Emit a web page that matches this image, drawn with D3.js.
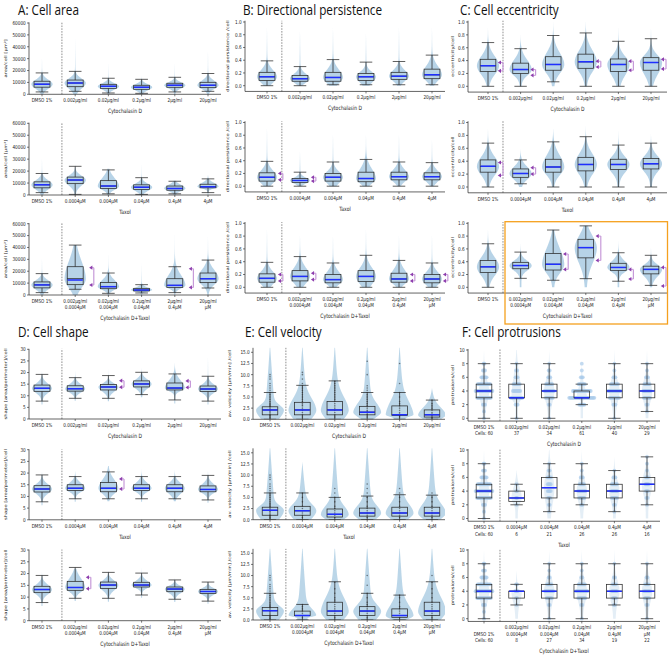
<!DOCTYPE html>
<html><head><meta charset="utf-8">
<script src="https://cdn.jsdelivr.net/npm/d3@7"></script>
<style>body{margin:0;background:#fff}svg{display:block}</style>
</head><body><svg id="c" width="670" height="658"></svg>
<script>
// ---------------- DATA ----------------
const catsCyto  = ["DMSO 1%","0.002µg/ml","0.02µg/ml","0.2µg/ml","2µg/ml","20µg/ml"];
const catsTaxol = ["DMSO 1%","0.0004µM","0.004µM","0.04µM","0.4µM","4µM"];
const catsCombo = ["DMSO 1%","0.002µg/ml\n0.0004µM","0.02µg/ml\n0.004µM","0.2µg/ml\n0.04µM","2µg/ml\n0.4µM","20µg/ml\nµM"];
const rowTitles = ["Cytochalasin D","Taxol","Cytochalasin D+Taxol"];

const areaTicks  = [0,10000,20000,30000,40000,50000,60000];
const persTicks  = [0,0.2,0.4,0.6,0.8,1.0];
const eccTicks   = [0,0.2,0.4,0.6,0.8,1.0];
const shapeTicks = [0,5,10,15,20,25,30];
const velTicks   = [0,2.5,5,7.5,10,12.5,15];
const protTicks  = [0,2,4,6,8,10];

// stats per category: [whisker low, Q1, median, Q3, whisker high, (blue median)]
const areaCyto  = [[2000,6000,8500,11000,18000],[2500,6400,9500,12000,19300],[1100,5000,6700,8400,13500],[800,4200,5900,7600,12600],[2000,5900,7600,9300,14300],[2500,5600,7600,10100,17500]];
const areaCytoTop  = [37000,54000,30000,16000,30000,45000];
const areaTaxol = [[2000,6000,8500,11000,18000],[500,9500,12500,15000,24000],[1000,5500,7500,12000,21000],[500,4500,6500,8500,14500],[1000,4000,5500,7500,11500],[2000,6000,7000,9000,13500]];
const areaTaxolTop = [37000,26000,22000,30000,12000,17000];
const areaCombo = [[2000,6000,8500,11000,18000],[4800,8700,13700,23800,42000,12600],[1400,5300,7000,10600,18500],[1700,3400,4200,5600,8700],[2000,6400,8100,13700,23800],[5900,10400,13700,18500,29400]];
const areaComboTop = [37000,42000,40000,30000,60000,60000];
const areaComboArrows = [[1,23000,8400],[4,22100,6400]];

const persCyto  = [[0,0.08,0.14,0.21,0.39],[0,0.07,0.11,0.16,0.30],[0.015,0.07,0.13,0.21,0.41],[0.015,0.08,0.14,0.19,0.37],[0.015,0.10,0.15,0.21,0.38],[0.015,0.11,0.17,0.26,0.48]];
const persCytoTop  = [1.0,0.95,1.0,0.9,1.0,1.0];
const persTaxol = [[0,0.08,0.14,0.21,0.39],[0,0.06,0.09,0.12,0.22],[0,0.08,0.14,0.20,0.38],[0,0.07,0.12,0.22,0.42],[0,0.10,0.15,0.22,0.38],[0,0.10,0.15,0.21,0.37]];
const persTaxolTop = [1.0,0.6,0.9,0.9,0.9,0.8];
const persTaxolArrows = [[0,0.2,0.1],[1,0.14,0.08]];
const persCombo = [[0,0.08,0.14,0.21,0.39],[0,0.10,0.17,0.26,0.48],[0,0.07,0.12,0.20,0.38],[0,0.09,0.17,0.26,0.50],[0,0.08,0.13,0.22,0.42],[0,0.07,0.13,0.20,0.38]];
const persComboTop = [1.0,0.9,0.9,1.0,0.9,0.9];
const persComboArrows = [[0,0.2,0.1],[1,0.22,0.12],[4,0.2,0.1],[5,0.2,0.1]];

const eccCyto  = [[0,0.23,0.32,0.42,0.68],[0,0.20,0.26,0.36,0.585],[0.07,0.25,0.34,0.46,0.79],[0,0.28,0.38,0.50,0.83],[0,0.23,0.34,0.425,0.70],[0,0.25,0.37,0.445,0.74]];
const eccCytoTop  = [0.95,0.8,1.0,1.0,0.95,0.95];
const eccCytoArrows = [[0,0.37,0.24],[1,0.26,0.17],[3,0.39,0.30],[4,0.39,0.25],[5,0.42,0.27]];
const eccTaxol = [[0,0.23,0.32,0.42,0.68],[0.05,0.15,0.21,0.28,0.42],[0,0.23,0.31,0.43,0.70],[0,0.25,0.35,0.46,0.78],[0,0.27,0.35,0.43,0.65],[0,0.28,0.36,0.44,0.68]];
const eccTaxolTop = [0.95,0.6,0.9,0.95,0.9,0.85];
const eccTaxolArrows = [[0,0.38,0.18],[1,0.3,0.2]];
const eccCombo = [[0,0.23,0.32,0.42,0.68],[0.14,0.29,0.34,0.39,0.55],[0.11,0.27,0.36,0.53,0.895],[0.135,0.46,0.62,0.75,0.96],[0.095,0.265,0.31,0.375,0.54],[0.03,0.21,0.28,0.33,0.50]];
const eccComboTop = [0.95,0.7,0.9,0.96,0.75,0.65];
const eccComboArrows = [[2,0.52,0.28],[3,0.80,0.42],[4,0.28,0.13],[5,0.31,0.02]];

const shapeCyto  = [[7.7,11.9,13.2,14.6,19.2],[8.9,12.0,13.0,14.3,17.8],[8.9,12.5,13.8,14.8,18.7],[10.5,13.8,15.1,16.4,20.1],[8.2,12.5,13.3,15.5,19.4],[7.7,11.8,12.9,14.2,18.4]];
const shapeCytoTop  = [22,22,23,22,24,30];
const shapeCytoArrows = [[2,16.5,13.7],[4,16.4,13.6]];
const shapeTaxol = [[7.7,11.9,13.2,14.6,19.2],[9.0,12.5,13.5,15.0,18.5],[9.0,12.0,13.5,16.0,20.5],[9.0,12.5,13.5,15.0,18.5],[9.0,12.0,13.5,15.0,18.5],[8.5,12.0,13.0,14.5,19.0]];
const shapeTaxolTop = [22,21,23,22,22,22];
const shapeTaxolArrows = [[2,17.5,13.2]];
const shapeCombo = [[7.7,11.9,13.2,14.6,19.2],[9.5,12.9,14.1,16.7,22.6],[9.5,13.7,15.1,16.4,20.5],[10.9,14.3,15.1,16.3,20.2],[9.1,12.3,13.4,14.3,17.3],[8.3,11.5,12.4,13.3,16.4]];
const shapeComboTop = [22,22,21,24,18,17];
const shapeComboArrows = [[1,18.4,13.6]];

const velCyto  = [[0,1.0,2.1,2.8,6.0],[0,1.0,2.1,3.8,7.6],[0,1.0,2.1,4.0,8.6],[0,1.0,1.6,2.9,6.0],[0,0.9,1.0,3.0,6.0],[0,0.5,1.0,2.1,4.3]];
const velCytoTop  = [17,17,17,17,17,7];
const velCytoPts = [[0.3,0.5,0.8,1,1.2,1.5,1.8,2,2.2,2.5,2.8,3,3.3,3.6,4,4.5,5,5.5,6,6.5,7,7.5,8,9,9.5,10],[0.5,1,1.5,2,2.5,3,3.2,3.5,4,4.5,5,5.5,6,6.5,7,7.5,8,9,10,10.5],[0.5,1,1.5,2,2.5,3,3.5,4,4.5,5,5.5,6,6.5,7,7.5,8,8.5],[0.5,1,1.2,1.5,1.8,2,2.5,3,3.5,4,4.5,5,5.5,6,6.5,7,7.5,10,13],[0.5,0.8,1,1.2,1.5,2,2.5,3,3.5,4,5,6,8,12.5],[0.3,0.5,0.8,1,1.2,1.5,2,2.5,3,3.5,4.3]];
const velTaxol = [[0,1.0,2.1,2.8,6.0],[0,1.0,2.0,3.0,6.0],[0,0.6,1.2,2.4,5.0],[0,0.8,1.5,2.6,5.3],[0,0.8,1.5,2.8,5.6],[0,0.8,1.5,2.8,5.5]];
const velTaxolTop = [17,13,17,17,17,17];
const velTaxolPts = [[0.3,0.5,0.8,1,1.2,1.5,1.8,2,2.2,2.5,2.8,3,3.3,3.6,4,4.5,5,5.5,6,6.5,7,7.5,8,9,9.5,10],[0.5,1,1.5,2,2.5,3,4,5,6],[0.5,1,1.5,2,2.5,3,4,5,6,7],[0.5,1,1.5,2,2.5,3,4,5,6,7,8],[0.5,1,1.5,2,2.5,3,4,5,6,7],[0.5,1,1.5,2,2.5,3,4,5,6]];
const velCombo = [[0,1.0,2.1,2.8,6.0],[0,1.0,1.0,2.0,3.5],[0,1.0,2.0,4.0,8.6],[0,1.0,2.0,3.0,6.0],[0,0.6,1.0,2.5,5.6],[0,1.0,2.0,4.0,8.6]];
const velComboTop = [17,17,17,17,17,17];
const velComboPts = [[0.3,0.5,0.8,1,1.2,1.5,1.8,2,2.2,2.5,2.8,3,3.3,3.6,4,4.5,5,5.5,6,6.5,7,7.5,8,9,9.5,10],[0.5,1,1.5,2,2.5,3,3.5],[0.5,1,1.5,2,2.5,3,3.5,4,4.5,5,6,7,8.5],[0.5,1,1.5,2,2.5,3,3.5,4,5,6,7.8,10],[0.5,1,1.5,2,2.5,3,4,5,5.6],[0.5,1,1.5,2,2.5,3,3.5,4,5,6,7,8.5,10]];

const protCyto  = [[0,3,4,5,8],[0,3,3,5,8],[0,3,4,5,8],[2,3,3,4,5],[0,3,4,5,8],[1,3,4,5,8]];
const protCytoCounts = [[1,1,3,14,17,13,6,3,2,0,0],[1,0,3,12,8,7,3,2,1,0,0],[1,0,2,8,10,7,3,2,1,0,0],[0,0,6,25,18,7,3,1,1,0,0],[1,0,3,10,13,8,3,1,1,0,0],[0,1,2,7,8,6,3,1,1,0,0]];
const protCytoCells = [60,37,34,61,40,29];
const protTaxol = [[0,3,4,5,8],[2,2.5,3,4,5],[1,3,4.5,6,8],[2,3,4,5,8],[1,3,4,5,7],[2,4,5,6,9]];
const protTaxolCounts = [[1,1,3,14,17,13,6,3,2,0,0],[0,0,1,2,2,1,0,0,0,0,0],[0,1,2,3,4,4,4,2,1,0,0],[0,0,2,6,8,5,3,1,1,0,0],[0,1,2,6,7,6,3,1,0,0,0],[0,0,1,2,3,4,3,1,1,1,0]];
const protTaxolCells = [60,6,21,26,26,16];
const protCombo = [[0,3,4,5,8],[2,3,4,4,5],[0,3,4,5,8],[0,3,4,5,8],[2,3,4,5,8],[0,3,4,5,8]];
const protComboCounts = [[1,1,3,14,17,13,6,3,2,0,0],[0,0,1,2,3,2,0,0,0,0,0],[1,0,2,6,9,5,2,1,1,0,0],[1,0,2,8,12,7,2,1,1,0,0],[0,0,2,4,6,4,2,0,1,0,0],[1,0,2,5,7,4,2,0,1,0,0]];
const protComboCells = [60,8,27,34,19,22];

// ---------------- LAYOUT ----------------
const svg = d3.select("#c");
const SX = 0.76;
const FT = "'DejaVu Sans', sans-serif";
function txt(g,x,y,s,o={}) {
  const t = g.append("text")
    .attr("transform",`translate(${x},${y}) scale(${o.sx||SX},1)`+(o.rot?` rotate(${o.rot})`:""))
    .attr("font-size",o.size||5.5).attr("font-family",o.family||FT)
    .attr("text-anchor",o.anchor||"middle").attr("fill",o.fill||"#222").text(s);
  return t;
}
const f1 = d3.format(".1f"), fd = d3.format("d");
const panels = [
 {key:"A",title:"A: Cell area",tx:18,ty:15.3,ylabel:"area/cell [µm²]",ylx:5,
  ax:29,c0:42,c5:208,rx:221,dash:0.6,ticks:areaTicks,fmt:fd,dmin:0,dmax:60500,v0:0,v1:60000,
  py0:[94.3,195,295],py1:[23,123.3,223.7],vw:0.32,tail:0.04,tex:2,floor:"zero",vop:0.32,aTip:0.42,aLine:0.56,
  rows:[{s:areaCyto,top:areaCytoTop,arr:[]},{s:areaTaxol,top:areaTaxolTop,arr:[]},{s:areaCombo,top:areaComboTop,arr:areaComboArrows}]},
 {key:"B",title:"B: Directional persistence",tx:243,ty:15.3,ylabel:"directional persistence /cell",ylx:227,
  ax:245,c0:267,c5:432,rx:445,dash:0.45,ticks:persTicks,fmt:f1,dmin:-0.09,dmax:1.02,v0:0,v1:1,
  py0:[85.7,186.2,287.3],py1:[22,122.5,223.3],vw:0.3,tail:0.07,tex:1.6,floor:"zero",vop:0.32,aTip:0.33,aLine:0.48,
  rows:[{s:persCyto,top:persCytoTop,arr:[]},{s:persTaxol,top:persTaxolTop,arr:persTaxolArrows},{s:persCombo,top:persComboTop,arr:persComboArrows}]},
 {key:"C",title:"C: Cell eccentricity",tx:460,ty:15.3,ylabel:"eccentricity/cell",ylx:452,
  ax:468,c0:488,c5:651,rx:667,dash:0.46,ticks:eccTicks,fmt:f1,dmin:-0.09,dmax:1.02,v0:0,v1:1,
  py0:[86.3,187,287.3],py1:[22,122.5,223.3],vw:0.34,tail:0.08,tex:1.5,floor:"zero",vop:0.32,aTip:0.3,aLine:0.46,
  rows:[{s:eccCyto,top:eccCytoTop,arr:eccCytoArrows},{s:eccTaxol,top:eccTaxolTop,arr:eccTaxolArrows},{s:eccCombo,top:eccComboTop,arr:eccComboArrows}]},
 {key:"D",title:"D: Cell shape",tx:18,ty:337,ylabel:"shape [area/perimeter]/cell",ylx:5,
  ax:29,c0:42,c5:208,rx:221,dash:0.6,ticks:shapeTicks,fmt:fd,dmin:0,dmax:30.2,v0:0,v1:30,
  py0:[419,519.8,620.7],py1:[349.3,449.7,550],vw:0.3,tail:0.05,tex:2,floor:"ext",vop:0.32,aTip:0.32,aLine:0.47,
  rows:[{s:shapeCyto,top:shapeCytoTop,arr:shapeCytoArrows},{s:shapeTaxol,top:shapeTaxolTop,arr:shapeTaxolArrows},{s:shapeCombo,top:shapeComboTop,arr:shapeComboArrows}]},
 {key:"E",title:"E: Cell velocity",tx:245,ty:337,ylabel:"av. velocity [µm/min] /cell",ylx:229,
  ax:253,c0:270,c5:432,rx:445,dash:0.49,ticks:velTicks,fmt:f1,dmin:0,dmax:16,v0:0,v1:15,
  py0:[419.3,519.7,620],py1:[352.3,452.8,553.3],vw:0.43,tail:0.55,tex:1.1,floor:"zero",vop:0.3,aTip:0.33,aLine:0.48,
  rows:[{s:velCyto,top:velCytoTop,arr:[],pts:velCytoPts},{s:velTaxol,top:velTaxolTop,arr:[],pts:velTaxolPts},{s:velCombo,top:velComboTop,arr:[],pts:velComboPts}]},
 {key:"F",title:"F: Cell protrusions",tx:462,ty:337,ylabel:"protrusions/cell",ylx:452,
  ax:468,c0:484,c5:647,rx:660,dash:0.49,ticks:protTicks,fmt:fd,dmin:-0.4,dmax:10.15,v0:0,v1:10,
  py0:[418.3,518.5,618.7],py1:[350,450,550],vw:0.16,tail:0.3,tex:1,floor:"zero",vop:0.12,aTip:0.33,aLine:0.48,
  rows:[{s:protCyto,top:[10,10,10,8,10,10],arr:[],counts:protCytoCounts,cells:protCytoCells},
        {s:protTaxol,top:[10,7,10,10,9,10],arr:[],counts:protTaxolCounts,cells:protTaxolCells},
        {s:protCombo,top:[10,7,10,10,10,10],arr:[],counts:protComboCounts,cells:protComboCells}]}
];
const rowCats = [catsCyto,catsTaxol,catsCombo];

function violinPts(st,top,floor,tailW,tex){
  const [wlo,q1,med,q3,whi]=st;
  const rng=(whi-wlo)||1;
  const sLo=Math.max((med-q1)/0.674,rng*0.06), sHi=Math.max((q3-med)/0.674,rng*0.06);
  const N=100, pts=[];
  for(let k=0;k<=N;k++){
    const v=floor+(top-floor)*k/N;
    const core=Math.exp(-0.5*Math.pow((v-med)/(v<med?sLo:sHi),2));
    const tl=v<med?tailW:tailW*Math.pow(Math.max(0,1-(v-med)/(top-med)),tex);
    pts.push([v,core+tl]);
  }
  const m=d3.max(pts,p=>p[1]);
  return pts.map(p=>[p[0],p[1]/m]);
}

const PURPLE="#8e3fae", PURPLE_L="#c79ad9";
panels.forEach(P=>{
  txt(svg,P.tx,P.ty,P.title,{size:14,sx:0.84,anchor:"start",family:"'Open Sans', 'Noto Sans', sans-serif",fill:"#111"});
  P.rows.forEach((row,r)=>{
    const g=svg.append("g");
    const y=d3.scaleLinear().domain([P.v0,P.v1]).range([P.py0[r],P.py1[r]]);
    const x=d3.scaleLinear().domain([0,5]).range([P.c0,P.c5]);
    const sp=(P.c5-P.c0)/5;
    const yb=y(P.dmin), yt=y(P.dmax);
    const cid="clip"+P.key+r;
    svg.append("clipPath").attr("id",cid).append("rect").attr("x",P.ax).attr("y",yt).attr("width",P.rx-P.ax).attr("height",yb-yt);
    const pg=g.append("g").attr("clip-path",`url(#${cid})`);
    // violins
    row.s.forEach((st,i)=>{
      const xc=x(i);
      const floor=P.floor==="zero"?0:Math.max(P.dmin,st[0]-0.35*(st[1]-st[0]));
      const pts=violinPts(st,row.top[i],floor,P.tail,P.tex);
      const hw=P.vw*sp;
      const area=d3.area().y(p=>y(p[0])).x0(p=>xc-p[1]*hw).x1(p=>xc+p[1]*hw).curve(d3.curveBasis);
      pg.append("path").attr("d",area(pts)).attr("fill","#1f77b4").attr("opacity",P.vop);
    });
    // swarm dots (F)
    if(row.counts){
      row.counts.forEach((cs,i)=>{
        const xc=x(i);
        cs.forEach((n,v)=>{
          for(let j=0;j<n;j++){
            pg.append("circle").attr("cx",xc+(j-(n-1)/2)*1.05).attr("cy",y(v)).attr("r",1.9)
              .attr("fill","#a9cbea").attr("opacity",0.7);
          }
        });
      });
    }
    // dashed separator
    g.append("line").attr("x1",x(P.dash)).attr("x2",x(P.dash)).attr("y1",yb).attr("y2",yt)
      .attr("stroke","#444").attr("stroke-width",0.6).attr("stroke-dasharray","1.6,1.2");
    // boxes
    const bw=0.48*sp, cw=0.38*sp;
    row.s.forEach((st,i)=>{
      const xc=x(i);
      const [wlo,q1,med,q3,whi]=st; const blue=st.length>5?st[5]:med;
      const L=(x1,y1,x2,y2,c,w)=>pg.append("line").attr("x1",x1).attr("y1",y1).attr("x2",x2).attr("y2",y2).attr("stroke",c||"#2a2a2a").attr("stroke-width",w||0.75);
      L(xc,y(q3),xc,y(whi)); L(xc,y(q1),xc,y(wlo));
      L(xc-cw/2,y(whi),xc+cw/2,y(whi)); L(xc-cw/2,y(wlo),xc+cw/2,y(wlo));
      pg.append("rect").attr("x",xc-bw/2).attr("y",y(q3)).attr("width",bw).attr("height",Math.max(0.5,y(q1)-y(q3)))
        .attr("fill","none").attr("stroke","#2a2a2a").attr("stroke-width",0.75);
      if(row.pts){
        row.pts[i].forEach(v=>pg.append("circle").attr("cx",xc).attr("cy",y(v)).attr("r",0.8).attr("fill","#222").attr("opacity",0.55));
      }
      L(xc-bw/2,y(med),xc+bw/2,y(med),"#111",0.8);
      L(xc-bw/2+0.4,y(blue),xc+bw/2-0.4,y(blue),"#1f2fff",1.5);
    });
    // arrows
    row.arr.forEach(([i,a,b])=>{
      const xc=x(i), xt=xc+P.aTip*sp, xl=xc+P.aLine*sp, hl=3.2, hh=2.1;
      g.append("line").attr("x1",xl).attr("x2",xl).attr("y1",y(a)).attr("y2",y(b)).attr("stroke",PURPLE_L).attr("stroke-width",1.2);
      [a,b].forEach(v=>{
        const yy=y(v);
        g.append("line").attr("x1",xl).attr("x2",xt+hl-0.5).attr("y1",yy).attr("y2",yy).attr("stroke",PURPLE_L).attr("stroke-width",1.1);
        g.append("path").attr("d",`M${xt},${yy}L${xt+hl},${yy-hh}L${xt+hl},${yy+hh}Z`).attr("fill",PURPLE);
      });
    });
    // axes
    const ax=g.append("g");
    ax.append("line").attr("x1",P.ax).attr("x2",P.ax).attr("y1",yb).attr("y2",yt).attr("stroke","#222").attr("stroke-width",0.7);
    ax.append("line").attr("x1",P.ax).attr("x2",P.rx).attr("y1",yb).attr("y2",yb).attr("stroke","#222").attr("stroke-width",0.7);
    P.ticks.forEach(t=>{
      ax.append("line").attr("x1",P.ax-2).attr("x2",P.ax).attr("y1",y(t)).attr("y2",y(t)).attr("stroke","#222").attr("stroke-width",0.6);
      txt(ax,P.ax-3.3,y(t)+1.9,P.fmt(t),{anchor:"end"});
    });
    let maxLines=1;
    rowCats[r].forEach((c,i)=>{
      const xc=x(i);
      ax.append("line").attr("x1",xc).attr("x2",xc).attr("y1",yb).attr("y2",yb+2).attr("stroke","#222").attr("stroke-width",0.6);
      let lines=c.split("\n");
      if(row.cells){
        lines=lines.concat([i===0?"Cells: "+row.cells[i]:String(row.cells[i])]);
        if(r===2&&i===0) lines=[""].concat(lines);
      }
      maxLines=Math.max(maxLines,lines.length);
      lines.forEach((ln,k)=>{ if(ln) txt(ax,xc,yb+7.8+k*6.6,ln); });
    });
    txt(ax,(P.ax+P.rx)/2,yb+7.8+(maxLines-1)*6.6+11,rowTitles[r],{size:6});
    txt(ax,P.ylx+1.6,(yb+yt)/2,P.ylabel,{rot:-90,size:5.2});
  });
});
// highlight box
svg.append("rect").attr("x",505).attr("y",221.7).attr("width",162.5).attr("height",102.3)
  .attr("fill","none").attr("stroke","#f5a01e").attr("stroke-width",1.3);
</script>
</body></html>
